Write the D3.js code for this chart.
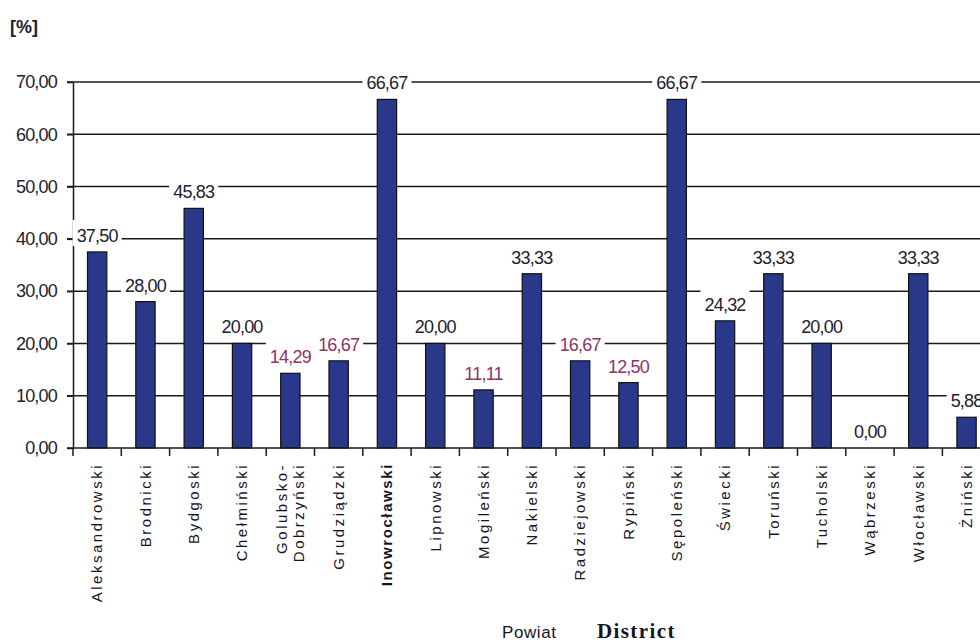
<!DOCTYPE html>
<html>
<head>
<meta charset="utf-8">
<script src="https://cdn.jsdelivr.net/npm/d3@7"></script>
<style>
  body { margin: 0; background: #fff; }
  svg { display: block; font-family: "Liberation Sans", Arial, sans-serif; }
</style>
</head>
<body>
<div id="chart"></div>
<script>
// districts (powiaty) and their percentages
const categories = ["Aleksandrowski", "Brodnicki", "Bydgoski", "Chełmiński", "Golubsko-\nDobrzyński",
  "Grudziądzki", "Inowrocławski", "Lipnowski", "Mogileński", "Nakielski", "Radziejowski",
  "Rypiński", "Sępoleński", "Świecki", "Toruński", "Tucholski", "Wąbrzeski", "Włocławski", "Żniński"];
const values = [37.50, 28.00, 45.83, 20.00, 14.29, 16.67, 66.67, 20.00, 11.11, 33.33,
  16.67, 12.50, 66.67, 24.32, 33.33, 20.00, 0.00, 33.33, 5.88];
const yTicks = [0, 10, 20, 30, 40, 50, 60, 70];
// labels that come out in the reddish tone on the original
const pinkLabels = ["Golubsko-\nDobrzyński", "Grudziądzki", "Mogileński", "Radziejowski", "Rypiński"];

var width = 980;
var height = 644;
var fmt = function(v) { return d3.format(".2f")(v).replace(".", ","); };

var svg = d3.select("#chart").append("svg")
  .attr("width", width)
  .attr("height", height);

var x = d3.scaleBand().domain(categories).range([73, 73 + 19 * 48.3])
  .paddingInner(0.6).paddingOuter(0.3);
var y = d3.scaleLinear().domain([0, 70]).range([448, 82]);

// gridlines
svg.append("g").selectAll("line").data(yTicks.filter(function(d) { return d > 0; })).enter()
  .append("line")
  .attr("x1", 67).attr("x2", width)
  .attr("y1", function(d) { return y(d); }).attr("y2", function(d) { return y(d); })
  .attr("stroke", "#1a1a1a").attr("stroke-width", 1.5);

// bars
svg.append("g").selectAll("rect").data(categories).enter()
  .append("rect")
  .attr("x", function(d) { return x(d); })
  .attr("width", x.bandwidth())
  .attr("y", function(d, i) { return y(values[i]); })
  .attr("height", function(d, i) { return y(0) - y(values[i]); })
  .attr("fill", "#293889")
  .attr("stroke", "#111")
  .attr("stroke-width", 1.2);

// y axis
var yAxis = svg.append("g").attr("transform", "translate(73,0)")
  .call(d3.axisLeft(y).tickValues(yTicks).tickFormat(fmt).tickSize(6).tickSizeOuter(0).tickPadding(10));
yAxis.select(".domain").attr("stroke", "#1a1a1a").attr("stroke-width", 1.5);
yAxis.selectAll(".tick line").attr("stroke", "#1a1a1a").attr("stroke-width", 1.5);
yAxis.selectAll(".tick text").attr("font-size", 18).attr("fill", "#1f2030")
  .attr("font-family", "'Liberation Sans', Arial, sans-serif").attr("letter-spacing", -0.8);

// x axis line and ticks at the band edges
svg.append("line").attr("x1", 67).attr("x2", width).attr("y1", y(0)).attr("y2", y(0))
  .attr("stroke", "#1a1a1a").attr("stroke-width", 1.5);
var edges = categories.map(function(c) { return x(c) + x.bandwidth() / 2 - x.step() / 2; });
edges.push(edges[edges.length - 1] + x.step());
svg.append("g").selectAll("line").data(edges).enter()
  .append("line")
  .attr("x1", function(d) { return d; }).attr("x2", function(d) { return d; })
  .attr("y1", y(0)).attr("y2", y(0) + 8)
  .attr("stroke", "#1a1a1a").attr("stroke-width", 1.5);

// x labels, rotated
var xl = svg.append("g").selectAll("text").data(categories).enter()
  .append("text")
  .attr("transform", function(d) { return "translate(" + (x(d) + x.bandwidth() / 2) + ",463) rotate(-90)"; })
  .attr("text-anchor", "end")
  .attr("font-size", 15)
  .attr("fill", "#15151f")
  .attr("font-weight", function(d) { return d == "Inowrocławski" ? "bold" : "normal"; })
  .attr("letter-spacing", function(d) { return d == "Inowrocławski" ? 1.6 : 2.5; });
xl.each(function(d) {
  var lines = d.split("\n");
  var t = d3.select(this);
  lines.forEach(function(l, k) {
    var off = (k - (lines.length - 1) / 2) * 1.15 + 0.35;
    t.append("tspan").attr("x", 0).attr("y", 0).attr("dy", off + "em").text(l);
  });
});

// value labels with white backgrounds that cut the gridlines
var vl = svg.append("g").selectAll("g").data(categories).enter().append("g");
vl.each(function(d, i) {
  var g = d3.select(this);
  var cx = x(d) + x.bandwidth() / 2;
  var base = y(values[i]) - 10;
  var rect = g.append("rect").attr("fill", "#fff");
  var t = g.append("text")
    .attr("x", cx).attr("y", base)
    .attr("text-anchor", "middle")
    .attr("font-size", 18)
    .attr("letter-spacing", -0.8)
    .attr("fill", pinkLabels.indexOf(d) >= 0 ? "#8c3468" : "#1f2030")
    .text(fmt(values[i]));
  var w = t.node().getComputedTextLength();
  rect.attr("x", cx - w / 2 - 4).attr("width", w + 8)
    .attr("y", base - 22).attr("height", 26);
});

// titles
svg.append("text").attr("x", 10).attr("y", 33)
  .attr("font-size", 18).attr("font-weight", "bold").attr("fill", "#1f2030")
  .text("[%]");
svg.append("text").attr("x", 502).attr("y", 638)
  .attr("font-size", 17).attr("fill", "#15151f").attr("letter-spacing", 0.6)
  .text("Powiat");
svg.append("text").attr("x", 597).attr("y", 638)
  .attr("font-size", 21).attr("font-weight", "bold").attr("fill", "#15151f")
  .attr("font-family", "'Liberation Serif', 'Times New Roman', serif").attr("letter-spacing", 1.4)
  .text("District");
</script>
</body>
</html>
